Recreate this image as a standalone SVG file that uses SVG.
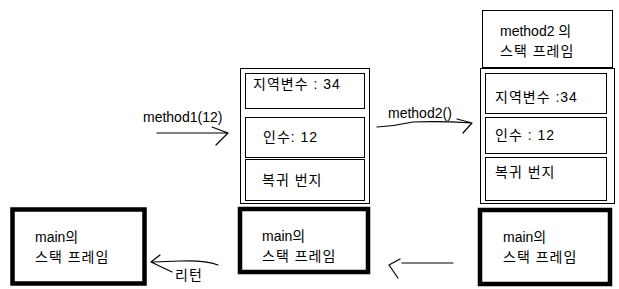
<svg xmlns="http://www.w3.org/2000/svg" width="619" height="289" viewBox="0 0 619 289">
<style>
text{font-family:"Liberation Sans","Noto Sans CJK KR",sans-serif;font-size:14px;fill:#000}
.k{letter-spacing:1px}
.thin{fill:#fff;stroke:#000;stroke-width:1}
.thick{fill:#fff;stroke:#000;stroke-width:4.5}
.c{fill:none;stroke:#000;stroke-width:1.2;stroke-linecap:round;stroke-linejoin:round}
</style>
<rect width="619" height="289" fill="#fff"/>
<g id="main-left">
<rect class="thick" x="12.5" y="209.5" width="132" height="74"/>
<text x="35" y="242">main의</text>
<text class="k" x="35" y="262">스택 프레임</text>
</g>
<g id="method1-frame">
<rect class="thin" x="240.5" y="68.5" width="129" height="135"/>
<g id="m1-local"><rect class="thin" x="245.5" y="73.5" width="119" height="35"/><text class="k" x="253" y="89">지역변수 : 34</text></g>
<g id="m1-arg"><rect class="thin" x="245.5" y="117.5" width="119" height="40"/><text class="k" x="263" y="142">인수: 12</text></g>
<g id="m1-ret"><rect class="thin" x="245.5" y="159.5" width="119" height="41"/><text class="k" x="262" y="185">복귀 번지</text></g>
</g>
<g id="main-mid">
<rect class="thick" x="240" y="209" width="128" height="63"/>
<text x="262" y="241">main의</text>
<text class="k" x="262" y="261">스택 프레임</text>
</g>
<g id="method2-frame">
<rect class="thin" x="482.5" y="10.5" width="130" height="57"/>
<text x="500" y="36">method2 의</text>
<text class="k" x="500" y="56">스택 프레임</text>
</g>
<g id="method1-frame-right">
<rect class="thin" x="480.5" y="68.5" width="134" height="135"/>
<g id="m2-local"><rect class="thin" x="485.5" y="73.5" width="121" height="40"/><text class="k" x="495" y="102">지역변수 :34</text></g>
<g id="m2-arg"><rect class="thin" x="485.5" y="117.5" width="121" height="36"/><text class="k" x="495" y="140">인수 : 12</text></g>
<g id="m2-ret"><rect class="thin" x="485.5" y="157.5" width="121" height="43"/><text class="k" x="495" y="177">복귀 번지</text></g>
</g>
<g id="main-right">
<rect class="thick" x="480" y="210" width="130" height="74"/>
<text x="503" y="242">main의</text>
<text class="k" x="503" y="262">스택 프레임</text>
</g>
<g id="connectors">
<path class="c" d="M157 133 H228 M212 127 L228 133 L216 145"/>
<text x="143" y="122">method1(12)</text>
<path class="c" d="M377 127 Q395 126 413 122 Q440 121 472 123 M457 119 L472 123 L463 133"/>
<text x="388" y="118">method2()</text>
<path class="c" d="M453 263 H402 M400 259 L389 265 L398 278"/>
<path class="c" d="M218 265 Q205 260 180 261 L153 262 M160 255 L151 262 L172 272"/>
<text class="k" x="175" y="280">리턴</text>
</g>
</svg>
